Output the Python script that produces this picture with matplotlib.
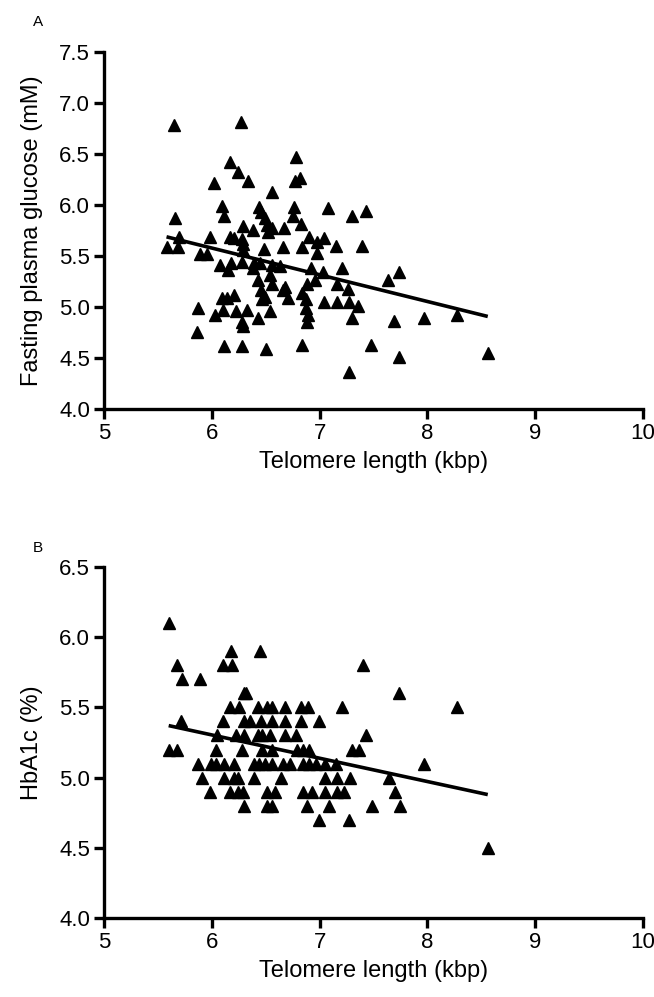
import numpy as np
import matplotlib
matplotlib.use("Agg")
import matplotlib.pyplot as plt

plt.rcParams['font.family'] = ['Liberation Sans', 'DejaVu Sans']

# Panel A: telomere length (kbp) vs fasting plasma glucose (mM)
tel_a = [6.17, 6.24, 6.34, 6.02, 6.56, 6.09, 6.11, 5.66, 6.44, 6.46, 6.49, 6.51, 6.56, 6.52,
         6.67, 6.29, 6.38, 5.70, 5.98, 6.17, 6.21, 6.28, 6.29, 5.58, 5.69, 5.89, 5.96, 6.29,
         6.48, 6.66, 6.08, 6.18, 6.28, 6.39, 6.45, 6.56, 6.63, 6.15, 6.38, 6.54, 6.43, 6.56,
         6.46, 6.49, 6.47, 6.66, 6.71, 6.09, 6.14, 6.21, 5.87, 6.03, 6.10, 6.22, 6.33, 6.43,
         6.54, 6.28, 6.29, 5.86, 6.11, 6.28, 6.50, 6.78, 6.77, 6.82, 6.76, 7.08, 6.75, 7.30,
         7.43, 6.83, 6.90, 6.98, 7.04, 7.15, 7.39, 6.84, 6.98, 6.92, 7.03, 7.21, 7.74, 7.63,
         6.68, 6.88, 6.96, 6.84, 6.87, 6.87, 6.89, 6.88, 7.16, 7.26, 7.04, 7.16, 7.27, 7.36,
         7.30, 7.69, 7.97, 8.27, 6.84, 7.48, 7.74, 7.27, 8.56, 5.65, 6.27]
fpg_a = [6.42, 6.32, 6.24, 6.22, 6.13, 5.99, 5.89, 5.87, 5.98, 5.93, 5.87, 5.80, 5.77, 5.74,
         5.77, 5.79, 5.75, 5.69, 5.69, 5.69, 5.68, 5.67, 5.62, 5.59, 5.59, 5.52, 5.52, 5.56,
         5.57, 5.59, 5.41, 5.43, 5.44, 5.43, 5.43, 5.41, 5.40, 5.36, 5.38, 5.31, 5.26, 5.23,
         5.17, 5.10, 5.08, 5.17, 5.09, 5.09, 5.09, 5.12, 4.99, 4.92, 4.97, 4.96, 4.97, 4.89,
         4.96, 4.85, 4.81, 4.75, 4.62, 4.62, 4.59, 6.47, 6.24, 6.26, 5.98, 5.97, 5.89, 5.89,
         5.94, 5.81, 5.69, 5.64, 5.68, 5.60, 5.60, 5.59, 5.53, 5.38, 5.34, 5.38, 5.34, 5.26,
         5.20, 5.23, 5.26, 5.14, 5.08, 4.99, 4.92, 4.85, 5.23, 5.18, 5.05, 5.05, 5.05, 5.01,
         4.89, 4.86, 4.89, 4.92, 4.63, 4.63, 4.51, 4.36, 4.55, 6.78, 6.81]
fit_a = [-0.262, 7.15]   # slope, intercept of regression line

# Panel B: telomere length (kbp) vs HbA1c (%)
tel_b = [5.60, 6.18, 6.45, 5.68, 6.10, 6.19, 5.72, 5.89, 7.40, 6.30, 6.32,
         6.17, 6.25, 6.43, 6.51, 6.56, 6.68, 6.83, 6.89, 7.21, 8.27,
         5.71, 6.10, 6.30, 6.35, 6.46, 6.56, 6.68, 6.83, 6.99,
         6.05, 6.22, 6.30, 6.43, 6.47, 6.54, 6.68, 6.78, 7.43,
         5.60, 5.68, 6.04, 6.28, 6.47, 6.56, 6.79, 6.85, 6.90, 7.30, 7.37,
         5.87, 5.99, 6.04, 6.11, 6.21, 6.39, 6.44, 6.49, 6.56, 6.66, 6.73, 6.85, 6.90, 6.97, 7.05, 7.15, 7.97,
         5.91, 6.11, 6.21, 6.24, 6.39, 6.64, 7.05, 7.16, 7.28, 7.64,
         5.98, 6.17, 6.24, 6.29, 6.51, 6.59, 6.85, 6.93, 7.05, 7.16, 7.23, 7.70,
         6.30, 6.51, 6.56, 6.88, 7.09, 7.49, 7.75,
         6.99, 7.27, 7.74, 8.56]
hba1c_b = [6.1, 5.9, 5.9, 5.8, 5.8, 5.8, 5.7, 5.7, 5.8, 5.6, 5.6,
           5.5, 5.5, 5.5, 5.5, 5.5, 5.5, 5.5, 5.5, 5.5, 5.5,
           5.4, 5.4, 5.4, 5.4, 5.4, 5.4, 5.4, 5.4, 5.4,
           5.3, 5.3, 5.3, 5.3, 5.3, 5.3, 5.3, 5.3, 5.3,
           5.2, 5.2, 5.2, 5.2, 5.2, 5.2, 5.2, 5.2, 5.2, 5.2, 5.2,
           5.1, 5.1, 5.1, 5.1, 5.1, 5.1, 5.1, 5.1, 5.1, 5.1, 5.1, 5.1, 5.1, 5.1, 5.1, 5.1, 5.1,
           5.0, 5.0, 5.0, 5.0, 5.0, 5.0, 5.0, 5.0, 5.0, 5.0,
           4.9, 4.9, 4.9, 4.9, 4.9, 4.9, 4.9, 4.9, 4.9, 4.9, 4.9, 4.9,
           4.8, 4.8, 4.8, 4.8, 4.8, 4.8, 4.8,
           4.7, 4.7, 5.6, 4.5]
fit_b = [-0.166, 6.30]

x_ticks = [5, 6, 7, 8, 9, 10]
y_ticks_a = [4.0, 4.5, 5.0, 5.5, 6.0, 6.5, 7.0, 7.5]
y_ticks_b = [4.0, 4.5, 5.0, 5.5, 6.0, 6.5]

fig = plt.figure(figsize=(6.54, 9.97), dpi=100)
W, H = 654, 997

def make_ax(top_px, bottom_px):
    left, right = 104, 643
    return fig.add_axes([left / W, 1 - bottom_px / H, (right - left) / W, (bottom_px - top_px) / H])

def style(ax, yticks, ylabel):
    for s in ['top', 'right']:
        ax.spines[s].set_visible(False)
    for s in ['left', 'bottom']:
        ax.spines[s].set_linewidth(2.4)
    ax.set_xlim(5, 10)
    ax.set_ylim(yticks[0], yticks[-1])
    ax.set_xticks(x_ticks)
    ax.set_xticklabels([str(t) for t in x_ticks])
    ax.set_yticks(yticks)
    ax.set_yticklabels([f"{t:.1f}" for t in yticks])
    ax.tick_params(axis='both', direction='out', length=7, width=2.4, labelsize=16, pad=3)
    ax.set_xlabel('Telomere length (kbp)', fontsize=17, labelpad=5)
    ax.set_ylabel(ylabel, fontsize=17, labelpad=12)
    for sp in ax.spines.values():
        sp.set_clip_on(False)

axA = make_ax(52, 409)
axA.plot(tel_a, fpg_a, linestyle='none', marker='^', ms=9, color='black', clip_on=False)
xa = np.array([min(tel_a), max(tel_a)])
axA.plot(xa, fit_a[0] * xa + fit_a[1], color='black', lw=2.6, solid_capstyle='butt')
style(axA, y_ticks_a, 'Fasting plasma glucose (mM)')

axB = make_ax(567, 918)
axB.plot(tel_b, hba1c_b, linestyle='none', marker='^', ms=9, color='black', clip_on=False)
xb = np.array([min(tel_b), max(tel_b)])
axB.plot(xb, fit_b[0] * xb + fit_b[1], color='black', lw=2.6, solid_capstyle='butt')
style(axB, y_ticks_b, 'HbA1c (%)')

fig.text(38 / W, 1 - 22 / H, 'A', fontsize=11, ha='center', va='center')
fig.text(38 / W, 1 - 548 / H, 'B', fontsize=11, ha='center', va='center')

fig.savefig('out.png', dpi=100)
